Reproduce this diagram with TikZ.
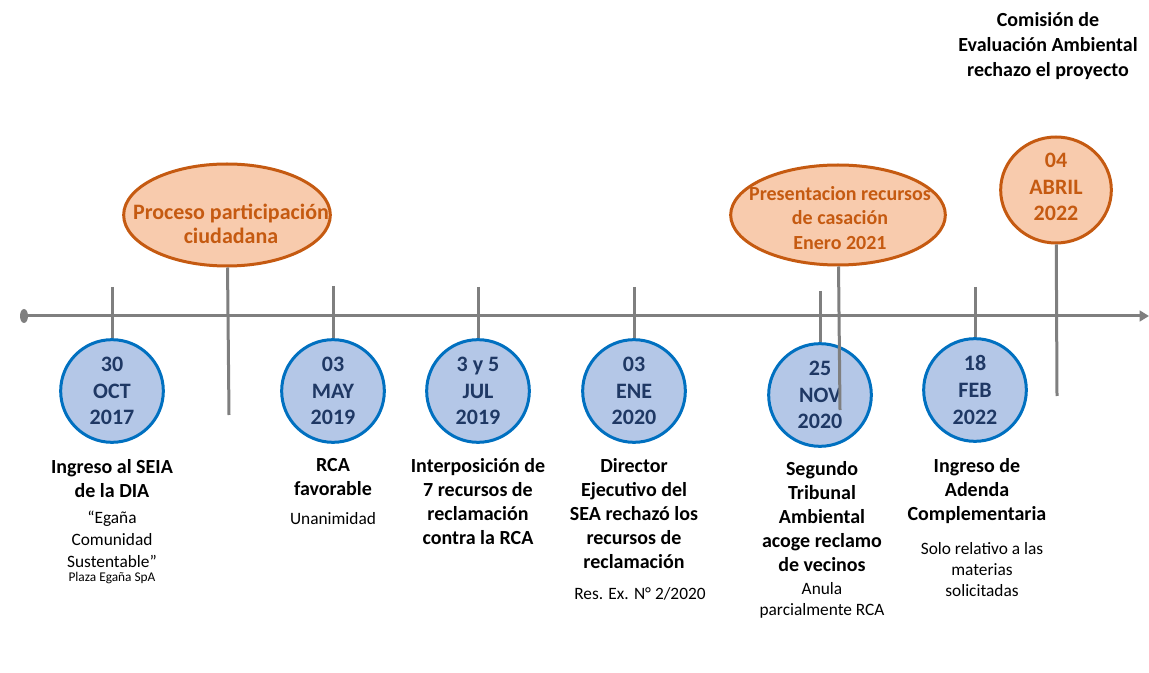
\documentclass[tikz,border=0pt]{standalone}
\usepackage{fontspec}
\setmainfont{Carlito}
\usetikzlibrary{shapes.geometric,arrows.meta}

\definecolor{ejegris}{HTML}{7F7F7F}
\definecolor{azulborde}{HTML}{0070C0}
\definecolor{azulrelleno}{HTML}{B4C7E7}
\definecolor{azultexto}{HTML}{1F3864}
\definecolor{naranjaborde}{HTML}{C55A11}
\definecolor{naranjarelleno}{HTML}{F8CBAD}

\begin{document}
\begin{tikzpicture}[
  x=0.75pt,y=-0.75pt,
  >=Stealth,
  eje/.style={line width=2.25pt,draw=ejegris,-{Triangle[length=7pt,width=8pt]}},
  marca/.style={line width=2.25pt,draw=ejegris},
  inicio/.style={ellipse,fill=ejegris,minimum width=6pt,minimum height=10.5pt,inner sep=0pt},
  fecha/.style={circle,draw=azulborde,fill=azulrelleno,line width=2.25pt,minimum size=77pt,
    inner sep=0pt,align=center,text=azultexto,font=\bfseries\fontsize{16.5}{20}\selectfont},
  evento/.style={align=center,inner sep=0pt,anchor=north,font=\bfseries\fontsize{15}{18}\selectfont},
  nota/.style={align=center,inner sep=0pt,anchor=north,font=\fontsize{13}{16.5}\selectfont},
  hito/.style={ellipse,draw=naranjaborde,fill=naranjarelleno,line width=2.25pt,inner sep=0pt},
  hitotexto/.style={align=center,inner sep=0pt,text=naranjaborde,font=\bfseries\fontsize{16.5}{18}\selectfont}
]
  \useasboundingbox (0,0) rectangle (1149,673);

  % eje del tiempo
  \node[inicio] (t0) at (24,316) {};
  \coordinate (tfin) at (1149,316);
  \draw[eje] (t0) -- (tfin);

  % fechas
  \coordinate (k1) at (112,287);
  \coordinate (k2) at (333,286);
  \coordinate (k3) at (478,287);
  \coordinate (k4) at (634,287);
  \coordinate (k5) at (820,291);
  \coordinate (k6) at (975,287);
  \node[fecha] (f1) at (112,391) {30\\OCT\\2017};
  \node[fecha] (f2) at (333,391) {03\\MAY\\2019};
  \node[fecha] (f3) at (478,391) {3 y 5\\JUL\\2019};
  \node[fecha] (f4) at (634,391) {03\\ENE\\2020};
  \node[fecha] (f5) at (820,395) {25\\NOV\\2020};
  \node[fecha] (f6) at (975,390) {18\\FEB\\2022};
  \draw[marca] (k1) -- (f1);
  \draw[marca] (k2) -- (f2);
  \draw[marca] (k3) -- (f3);
  \draw[marca] (k4) -- (f4);
  \draw[marca] (k5) -- (f5);
  \draw[marca] (k6) -- (f6);

  % hitos naranjas
  \node[hito,minimum width=155pt,minimum height=76.5pt] (p1) at (227,215) {};
  \node[hitotexto] (p1t) at (231,224) {Proceso participación\\ciudadana};
  \node[hito,minimum width=161pt,minimum height=75pt] (p2) at (838,215) {};
  \node[hitotexto,font=\bfseries\fontsize{15}{18.4}\selectfont] (p2t) at (840,218)
    {Presentacion recursos\\de casación\\Enero 2021};
  \node[hito,minimum width=83pt,minimum height=79.5pt] (p3) at (1056,190) {};
  \node[hitotexto,font=\bfseries\fontsize{16.5}{20}\selectfont] (p3t) at (1056,187) {04\\ABRIL\\2022};
  \coordinate (q1) at (229,415);
  \coordinate (q2) at (840,410);
  \coordinate (q3) at (1057,396);
  \draw[marca] (p1) -- (q1);
  \draw[marca] (p2) -- (q2);
  \draw[marca] (p3) -- (q3);

  % textos
  \node[evento] (e1) at (112,459) {Ingreso al SEIA\\de la DIA};
  \node[nota] (n1) at (112,511) {“Egaña\\Comunidad\\Sustentable”};
  \node[nota,font=\fontsize{10}{12}\selectfont] (n1b) at (112,572) {Plaza Egaña SpA};
  \node[evento] (e2) at (333,458) {RCA\\favorable};
  \node[nota] (n2) at (333,512) {Unanimidad};
  \node[evento] (e3) at (478,458) {Interposición de\\7 recursos de\\reclamación\\contra la RCA};
  \node[evento] (e4) at (634,458) {Director\\Ejecutivo del\\SEA rechazó los\\recursos de\\reclamación};
  \node[nota] (n4) at (640,587) {Res. Ex. N° 2/2020};
  \node[evento] (e5) at (822,461) {Segundo\\Tribunal\\Ambiental\\acoge reclamo\\de vecinos};
  \node[nota,font=\fontsize{13}{15.75}\selectfont] (n5) at (822,582) {Anula\\parcialmente RCA};
  \node[evento] (e6) at (977,458) {Ingreso de\\Adenda\\Complementaria};
  \node[nota,font=\fontsize{13}{15.75}\selectfont] (n6) at (982,542) {Solo relativo a las\\materias\\solicitadas};
  \node[evento,font=\bfseries\fontsize{15}{18.75}\selectfont] (c1) at (1048,12)
    {Comisión de\\Evaluación Ambiental\\rechazo el proyecto};
\end{tikzpicture}
\end{document}
